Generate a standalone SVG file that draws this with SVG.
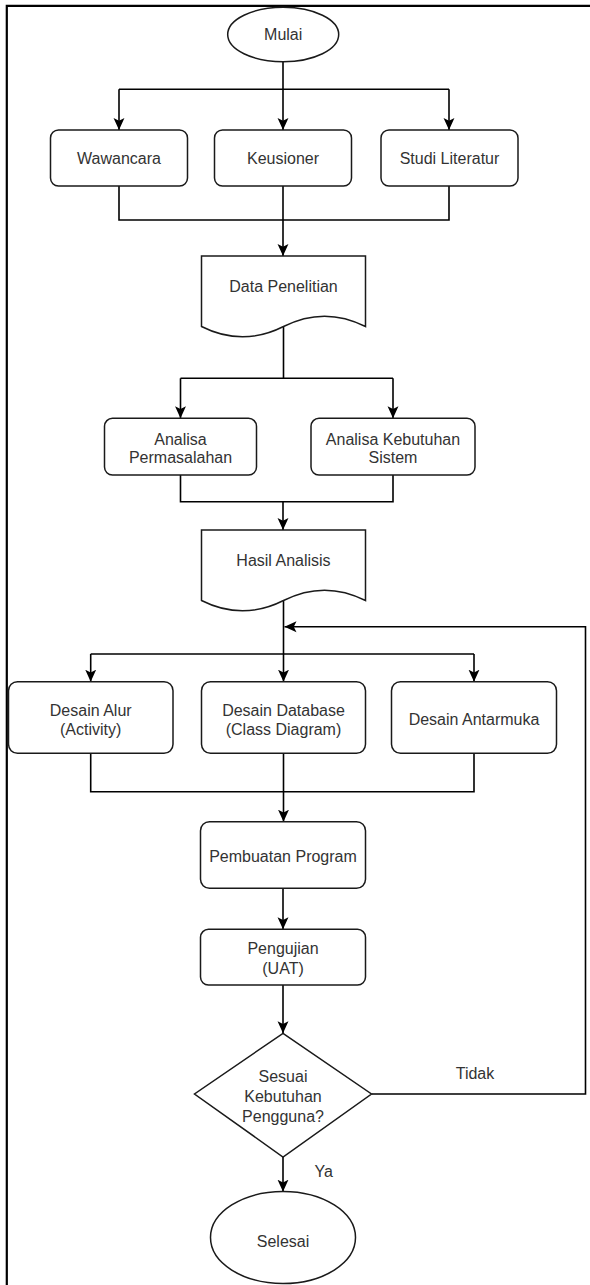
<svg xmlns="http://www.w3.org/2000/svg" width="590" height="1285" viewBox="0 0 590 1285">
<style>
.shape{fill:#fff;stroke:#1a1a1a;stroke-width:1.5}
.conn{fill:none;stroke:#000;stroke-width:1.6}
.arr{marker-end:url(#ah)}
text{font-family:"Liberation Sans",Arial,sans-serif;font-size:16px;fill:#333;text-anchor:middle}
</style>
<defs>
<marker id="ah" markerUnits="userSpaceOnUse" markerWidth="12" markerHeight="12" viewBox="0 0 11 10" refX="11" refY="5" orient="auto">
<path d="M0,0 L11,5 L0,10 L2.5,5 Z" fill="#000"/>
</marker>
</defs>
<rect x="0" y="0" width="590" height="1285" fill="#fff"/>
<path d="M6.8,1285 V5.8 H590" fill="none" stroke="#000" stroke-width="2.2"/>

<g id="connectors">
<path class="conn arr" d="M283,62 V130"/>
<path class="conn" d="M119,89.3 H449"/>
<path class="conn arr" d="M119,89.3 V130"/>
<path class="conn arr" d="M449,89.3 V130"/>
<path class="conn" d="M119,186 V220 H449 V186"/>
<path class="conn arr" d="M283,186 V256"/>
<path class="conn" d="M283.5,326.5 V378.3"/>
<path class="conn" d="M180.5,378.3 H393"/>
<path class="conn arr" d="M180.5,378.3 V418.3"/>
<path class="conn arr" d="M393,378.3 V418.3"/>
<path class="conn" d="M180.5,475 V501.7 H393 V475"/>
<path class="conn arr" d="M283,501.7 V530"/>
<path class="conn arr" d="M283.5,600.5 V681.7"/>
<path class="conn" d="M90.7,654 H474"/>
<path class="conn arr" d="M90.7,654 V681.7"/>
<path class="conn arr" d="M474,654 V681.7"/>
<path class="conn" d="M90.7,753.3 V791.7 H474 V753.3"/>
<path class="conn arr" d="M283.5,753.3 V821.7"/>
<path class="conn arr" d="M283,888.3 V929.3"/>
<path class="conn arr" d="M283,985 V1033.3"/>
<path class="conn arr" d="M283,1157 V1191.7"/>
<path class="conn arr" d="M371.5,1094 H585.5 V626.7 H284.5"/>
<text x="475" y="1078.5">Tidak</text>
<text x="323.7" y="1177">Ya</text>
</g>

<g id="mulai">
<ellipse class="shape" cx="283.2" cy="34.5" rx="55.5" ry="27.2"/>
<text x="283.2" y="40">Mulai</text>
</g>
<g id="wawancara">
<rect class="shape" x="50.5" y="130" width="137" height="56" rx="8"/>
<text x="119" y="164">Wawancara</text>
</g>
<g id="keusioner">
<rect class="shape" x="214.5" y="130" width="137" height="56" rx="8"/>
<text x="283" y="164">Keusioner</text>
</g>
<g id="studi">
<rect class="shape" x="381" y="130" width="137" height="56" rx="8"/>
<text x="449.5" y="164">Studi Literatur</text>
</g>
<g id="data-penelitian">
<path class="shape" d="M201.5,256 H365.5 V326.5 Q324.5,305.8 283.5,326.5 Q242.5,347.2 201.5,326.5 Z"/>
<text x="283.5" y="291.5">Data Penelitian</text>
</g>
<g id="analisa-permasalahan">
<rect class="shape" x="104.5" y="418.3" width="152" height="56.7" rx="8"/>
<text x="180.5" y="444.5">Analisa</text>
<text x="180.5" y="463">Permasalahan</text>
</g>
<g id="analisa-kebutuhan">
<rect class="shape" x="311" y="418.3" width="164" height="56.7" rx="8"/>
<text x="393" y="444.5">Analisa Kebutuhan</text>
<text x="393" y="463">Sistem</text>
</g>
<g id="hasil-analisis">
<path class="shape" d="M201.5,530 H365.5 V600.5 Q324.5,579.8 283.5,600.5 Q242.5,621.2 201.5,600.5 Z"/>
<text x="283.5" y="565.5">Hasil Analisis</text>
</g>
<g id="desain-alur">
<rect class="shape" x="8.5" y="681.7" width="164.5" height="71.6" rx="9"/>
<text x="90.7" y="715.5">Desain Alur</text>
<text x="90.7" y="735">(Activity)</text>
</g>
<g id="desain-database">
<rect class="shape" x="201.5" y="681.7" width="164" height="71.6" rx="9"/>
<text x="283.5" y="715.5">Desain Database</text>
<text x="283.5" y="735">(Class Diagram)</text>
</g>
<g id="desain-antarmuka">
<rect class="shape" x="391.5" y="681.7" width="165" height="71.6" rx="9"/>
<text x="474" y="725">Desain Antarmuka</text>
</g>
<g id="pembuatan">
<rect class="shape" x="200.5" y="821.7" width="165" height="66.6" rx="9"/>
<text x="283" y="862">Pembuatan Program</text>
</g>
<g id="pengujian">
<rect class="shape" x="200.5" y="929.3" width="165" height="55.7" rx="8"/>
<text x="283" y="953.5">Pengujian</text>
<text x="283" y="974">(UAT)</text>
</g>
<g id="keputusan">
<path class="shape" d="M283,1033.3 L371.5,1094 L283,1157 L194.5,1094 Z"/>
<text x="283" y="1082">Sesuai</text>
<text x="283" y="1102">Kebutuhan</text>
<text x="283" y="1122">Pengguna?</text>
</g>
<g id="selesai">
<ellipse class="shape" cx="283" cy="1237.5" rx="72.5" ry="46"/>
<text x="283" y="1247">Selesai</text>
</g>
</svg>
